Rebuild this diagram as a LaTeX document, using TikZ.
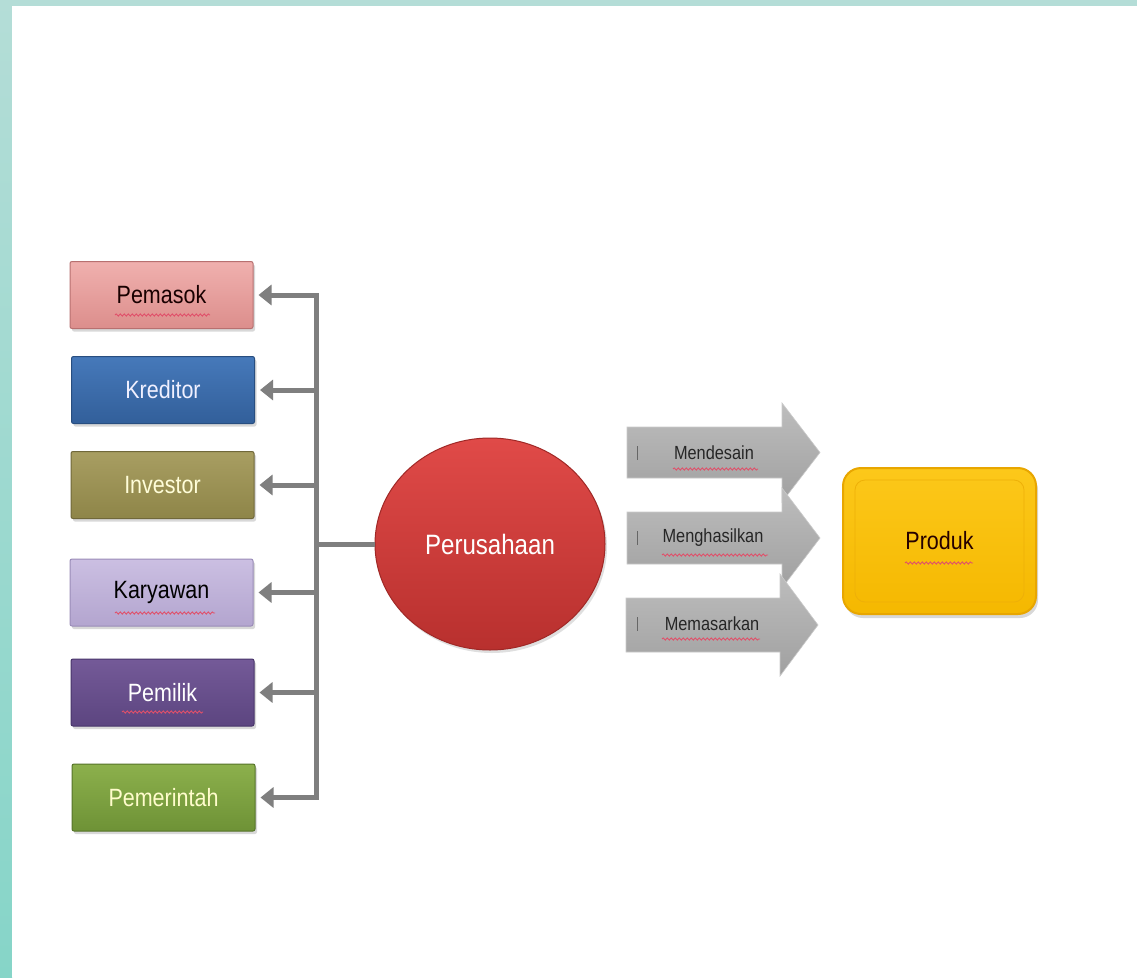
\documentclass[tikz,border=0pt]{standalone}
\usepackage{fontspec}
\setmainfont[FakeStretch=0.86]{Liberation Sans}
\usetikzlibrary{arrows.meta,shadows,decorations.pathmorphing,shapes.geometric}
\definecolor{tealA}{HTML}{B4DDD7}
\definecolor{tealB}{HTML}{86D5C8}
\definecolor{connc}{HTML}{7F7F7F}
\definecolor{pinkT}{HTML}{F0B0AE}\definecolor{pinkB}{HTML}{DC8E8C}\definecolor{pinkD}{HTML}{B87070}
\definecolor{blueT}{HTML}{4679BA}\definecolor{blueB}{HTML}{325F9A}\definecolor{blueD}{HTML}{284E80}
\definecolor{oliveT}{HTML}{A89E62}\definecolor{oliveB}{HTML}{8E8548}\definecolor{oliveD}{HTML}{70683A}
\definecolor{lavT}{HTML}{CBBFE2}\definecolor{lavB}{HTML}{B3A5CF}\definecolor{lavD}{HTML}{9A8CB8}
\definecolor{purT}{HTML}{745A98}\definecolor{purB}{HTML}{5C4580}\definecolor{purD}{HTML}{48356A}
\definecolor{grnT}{HTML}{8CB04C}\definecolor{grnB}{HTML}{6E9236}\definecolor{grnD}{HTML}{56742A}
\definecolor{redT}{HTML}{E04A48}\definecolor{redB}{HTML}{B8302E}\definecolor{redD}{HTML}{A02826}
\definecolor{goldT}{HTML}{FCC81A}\definecolor{goldB}{HTML}{F5B800}\definecolor{goldD}{HTML}{E8A600}
\definecolor{arrT}{HTML}{BDBDBD}\definecolor{arrB}{HTML}{A0A0A0}
\definecolor{squigc}{HTML}{E0506A}
\tikzset{
  box/.style={rectangle, rounded corners=2pt, minimum width=183pt, minimum height=67pt, inner sep=0pt,
    line width=1pt, font=\fontsize{25}{30}\selectfont,
    drop shadow={opacity=0.3, shadow xshift=2pt, shadow yshift=-3pt}},
  conn/.style={draw=connc, line width=5pt},
  connarrow/.style={conn, -{Triangle[length=13pt,width=20pt]}, shorten >=5pt},
  blockarrow/.style={top color=arrT, bottom color=arrB, draw=arrT!80!white, line width=0.6pt},
  arrlabel/.style={font=\fontsize{19}{22}\selectfont, text=black!85, inner sep=0pt},
  squig/.style={draw=squigc, line width=0.9pt, decorate,
    decoration={snake, amplitude=1.1pt, segment length=4pt}},
  tick/.style={draw=black!60, line width=0.8pt}
}
\begin{document}
\begin{tikzpicture}[x=1pt,y=-1pt]
\useasboundingbox (0,0) rectangle (1137,977);
% background
\fill[tealA] (0,0) rectangle (1137,6);
\shade[top color=tealA, bottom color=tealB] (0,0) rectangle (12,977);
\fill[white] (12,6) rectangle (1137,977);

% left boxes
\node[box, top color=pinkT, bottom color=pinkB, draw=pinkD, text=black!90!red] (pemasok) at (161.5,295) {Pemasok};
\node[box, top color=blueT, bottom color=blueB, draw=blueD, text=blue!6!white] (kreditor) at (163,390) {Kreditor};
\node[box, top color=oliveT, bottom color=oliveB, draw=oliveD, text=yellow!15!white] (investor) at (162.5,485) {Investor};
\node[box, top color=lavT, bottom color=lavB, draw=lavD, text=black] (karyawan) at (161.5,592.5) {Karyawan};
\node[box, top color=purT, bottom color=purB, draw=purD, text=white] (pemilik) at (162.5,692.5) {Pemilik};
\node[box, top color=grnT, bottom color=grnB, draw=grnD, text=yellow!20!white] (pemerintah) at (163.5,797.5) {Pemerintah};

% centre ellipse
\node[ellipse, minimum width=230pt, minimum height=212pt, inner sep=0pt,
  top color=redT, bottom color=redB, draw=redD, line width=1pt,
  text=white, font=\fontsize{28}{32}\selectfont,
  drop shadow={opacity=0.25, shadow xshift=2pt, shadow yshift=-3pt}] (perusahaan) at (490,544) {Perusahaan};

% product box
\node[rectangle, rounded corners=18pt, minimum width=193pt, minimum height=146pt,
  top color=goldT, bottom color=goldB, draw=goldD, line width=2pt,
  text=black!85!red, font=\fontsize{25}{30}\selectfont,
  drop shadow={opacity=0.3, shadow xshift=2pt, shadow yshift=-4pt}] (produk) at (939.5,541) {Produk};
\draw[goldD!70!goldT, line width=0.8pt, rounded corners=10pt] (855,480) rectangle (1024,602);

% bus and connectors
\coordinate (j1) at (316,295);
\coordinate (j2) at (316,390);
\coordinate (j3) at (316,485);
\coordinate (jm) at (316,544);
\coordinate (j4) at (316,592.5);
\coordinate (j5) at (316,692.5);
\coordinate (j6) at (316,797.5);
\draw[conn, line cap=rect] (j1) -- (j6);
\draw[conn] (perusahaan.west) -- (jm);
\draw[connarrow] (j1) -- (pemasok.east);
\draw[connarrow] (j2) -- (kreditor.east);
\draw[connarrow] (j3) -- (investor.east);
\draw[connarrow] (j4) -- (karyawan.east);
\draw[connarrow] (j5) -- (pemilik.east);
\draw[connarrow] (j6) -- (pemerintah.east);

% block arrows
\path[blockarrow] (627,427) -- (782,427) -- (782,403) -- (820,452.5) -- (782,502) -- (782,478) -- (627,478) -- cycle;
\path[blockarrow] (627,512) -- (782,512) -- (782,488) -- (820,538) -- (782,588) -- (782,564) -- (627,564) -- cycle;
\path[blockarrow] (626,598) -- (780,598) -- (780,574) -- (818,625) -- (780,676) -- (780,652) -- (626,652) -- cycle;
\draw[tick] (637,446) -- (637,460);
\draw[tick] (637,531) -- (637,545);
\draw[tick] (637,617) -- (637,631);
\node[arrlabel] (mendesain) at (714,453) {Mendesain};
\node[arrlabel] (menghasilkan) at (713,538) {Menghasilkan};
\node[arrlabel] (memasarkan) at (712,624) {Memasarkan};

% spell-check squiggles
\draw[squig] (115,315) -- (210,315);
\draw[squig] (115,613) -- (215,613);
\draw[squig] (122,712) -- (203,712);
\draw[squig] (905,563) -- (973,563);
\draw[squig] (673,469) -- (758,469);
\draw[squig] (662,555) -- (768,555);
\draw[squig] (662,639) -- (760,639);
\end{tikzpicture}
\end{document}
